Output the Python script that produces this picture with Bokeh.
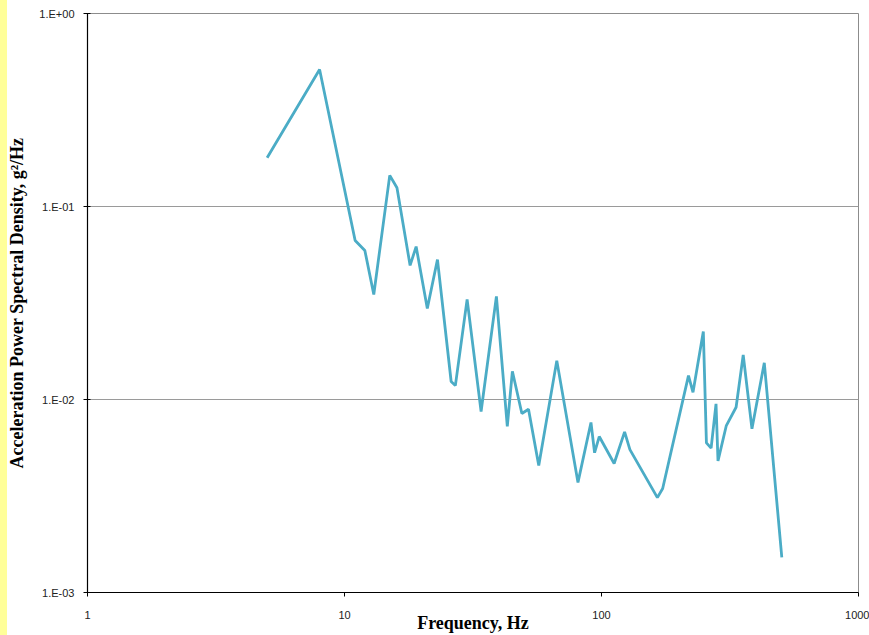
from bokeh.plotting import figure
from bokeh.models import FixedTicker
from bokeh.embed import file_html
from bokeh.resources import INLINE

# Data
freq_hz = [5, 8, 11, 12, 13, 15, 16, 18, 19, 21, 23, 26, 27, 30, 34, 39, 43, 45,
           49, 52, 57, 67, 81, 91, 94, 98, 112, 123, 129, 165, 173, 218, 227, 249,
           256, 267, 279, 284, 306, 334, 356, 385, 430, 503]
psd_g2hz = [0.179, 0.513, 0.0667, 0.0592, 0.035, 0.145, 0.125, 0.0495, 0.062,
            0.0296, 0.0531, 0.0124, 0.0118, 0.033, 0.00867, 0.0342, 0.00725, 0.014,
            0.00846, 0.0089, 0.00455, 0.0159, 0.00372, 0.0076, 0.0053, 0.00643,
            0.00466, 0.0068, 0.0055, 0.0031, 0.00346, 0.0133, 0.0109, 0.0225,
            0.00596, 0.0056, 0.0095, 0.00481, 0.00733, 0.00912, 0.017, 0.00705,
            0.0155, 0.00152]

x_ticks = [1, 10, 100, 1000]
x_tick_labels = ["1", "10", "100", "1000"]
y_ticks = [0.001, 0.01, 0.1, 1.0]
y_tick_labels = ["1.E-03", "1.E-02", "1.E-01", "1.E+00"]

p = figure(width=869, height=635, x_axis_type="log", y_axis_type="log",
           x_range=(1, 1000), y_range=(0.001, 1.0),
           output_backend="svg", toolbar_location=None,
           min_border_left=87, min_border_right=11, min_border_top=13,
           min_border_bottom=43)
p.border_fill_color = None
p.background_fill_color = "white"
p.styles = {"background-color": "white",
            "box-shadow": "inset 7px 0 0 0 #FFFF99"}

p.line(freq_hz, psd_g2hz, line_color="#4BACC6", line_width=2.8)

p.outline_line_color = "#8c8c8c"
p.outline_line_width = 1
p.xgrid.grid_line_color = None
p.ygrid.grid_line_color = "#9a9a9a"
p.ygrid.grid_line_width = 1

p.xaxis.ticker = FixedTicker(ticks=x_ticks)
p.yaxis.ticker = FixedTicker(ticks=y_ticks)
p.xaxis.major_label_overrides = dict(zip(x_ticks, x_tick_labels))
p.yaxis.major_label_overrides = dict(zip(y_ticks, y_tick_labels))

for ax in (p.xaxis, p.yaxis):
    ax.axis_line_color = "black"
    ax.axis_line_width = 1.2
    ax.major_tick_line_color = "black"
    ax.minor_tick_line_color = None
    ax.major_label_text_font = "Liberation Sans"
    ax.major_label_text_font_size = "11px"
    ax.major_label_text_color = "#222222"
    ax.axis_label_text_font = "Liberation Serif"
    ax.axis_label_text_font_style = "bold"
    ax.axis_label_text_font_size = "18px"
    ax.axis_label_text_color = "black"

p.xaxis.major_tick_in = 0
p.xaxis.major_tick_out = 4
p.yaxis.major_tick_in = 3
p.yaxis.major_tick_out = 4

p.xaxis.major_label_standoff = 14
p.yaxis.major_label_standoff = 9

p.xaxis.axis_label = "Frequency, Hz"
p.yaxis.axis_label = "Acceleration Power Spectral Density, g\u00b2/Hz"
p.xaxis.axis_label_standoff = -9
p.yaxis.axis_label_standoff = 9

open("out.html", "w").write(file_html(p, INLINE))
